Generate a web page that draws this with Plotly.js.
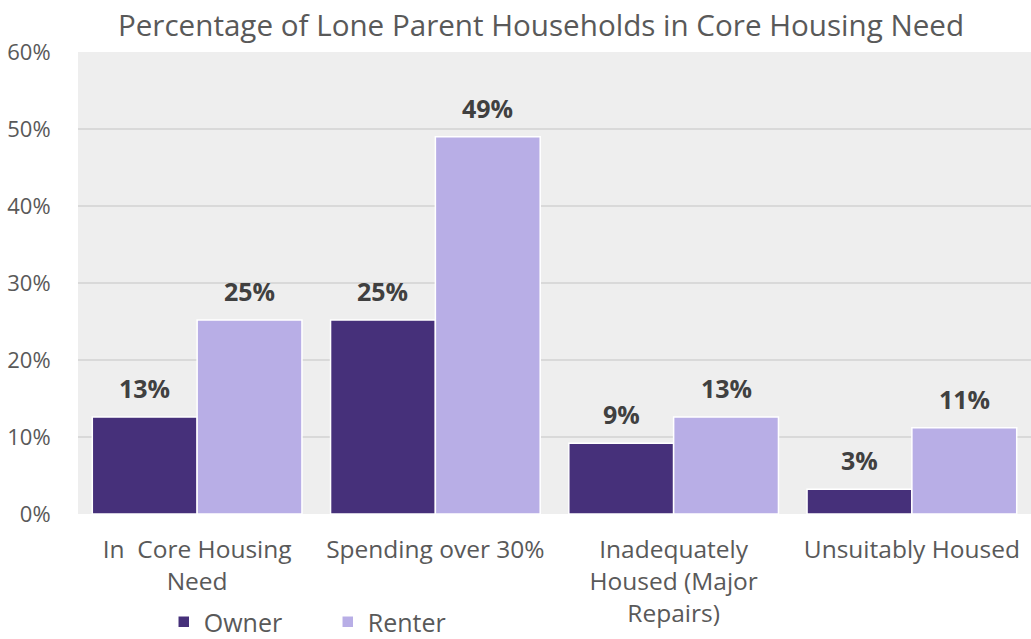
<!DOCTYPE html>
<html>
<head>
<meta charset="utf-8">
<script src="https://cdn.plot.ly/plotly-3.0.1.min.js"></script>
<style>html,body{margin:0;padding:0;background:#fff;}#chart{width:1031px;height:639px;}</style>
</head>
<body>
<div id="chart"></div>
<script>
var categories = ["In  Core Housing<br>Need", "Spending over 30%", "Inadequately<br>Housed (Major<br>Repairs)", "Unsuitably Housed"];
var ownerValues = [0.126, 0.252, 0.092, 0.032];
var renterValues = [0.252, 0.49, 0.126, 0.112];
var yTickValues = [0, 0.1, 0.2, 0.3, 0.4, 0.5, 0.6];
var seriesNames = ["Owner", "Renter"];

var labelFont = {family: "Open Sans", size: 25, color: "#404040", weight: 700};
var barGap = 0.12;
var plotWidthPx = 1031 - 78 - 0;
var barHalfPx = (plotWidthPx / categories.length) * (1 - barGap) / 4;

var traces = [
  {type: "bar", name: seriesNames[0], x: categories, y: ownerValues,
   marker: {color: "#46307a", line: {color: "#ffffff", width: 1.5}},
   hoverinfo: "skip"},
  {type: "bar", name: seriesNames[1], x: categories, y: renterValues,
   marker: {color: "#b8aee6", line: {color: "#ffffff", width: 1.5}},
   hoverinfo: "skip"}
];

var annotations = [];
[ownerValues, renterValues].forEach(function (vals, s) {
  vals.forEach(function (v, i) {
    annotations.push({
      x: categories[i], y: v, xref: "x", yref: "y",
      text: "<b>" + Math.round(v * 100) + "%</b>",
      showarrow: false, yanchor: "bottom", yshift: 10,
      xshift: (s === 0 ? -1 : 1) * barHalfPx,
      font: labelFont
    });
  });
});

var layout = {
  width: 1031, height: 639,
  margin: {l: 78, r: 0, t: 52, b: 125, autoexpand: false},
  paper_bgcolor: "#ffffff",
  plot_bgcolor: "#eeeeee",
  font: {family: "Open Sans", color: "#595959"},
  title: {text: "Percentage of Lone Parent Households in Core Housing Need",
          font: {family: "Open Sans", size: 29.6, color: "#595959"},
          x: 541/1031, xanchor: "center", y: 0.96, yanchor: "middle"},
  barmode: "group",
  bargap: barGap,
  bargroupgap: 0,
  xaxis: {tickfont: {size: 24.5, color: "#595959"}, showgrid: false, zeroline: false,
          showline: false, ticks: "outside", ticklen: 14, tickcolor: "rgba(0,0,0,0)", automargin: false},
  yaxis: {range: [0, 0.6], tickvals: yTickValues, tickformat: ".0%",
          tickfont: {size: 22, color: "#595959"}, gridcolor: "#d9d9d9", gridwidth: 2,
          zeroline: false, showline: false, ticks: "outside", ticklen: 22, tickcolor: "rgba(0,0,0,0)", automargin: false},
  legend: {orientation: "h", x: 0.090, xanchor: "left", y: -0.234, yanchor: "middle",
           font: {size: 25, color: "#595959"}, bgcolor: "rgba(0,0,0,0)", traceorder: "normal",
           entrywidth: 119, entrywidthmode: "pixels"},
  annotations: annotations,
  showlegend: true
};

Plotly.newPlot("chart", traces, layout, {displayModeBar: false, staticPlot: true});
</script>
</body>
</html>
